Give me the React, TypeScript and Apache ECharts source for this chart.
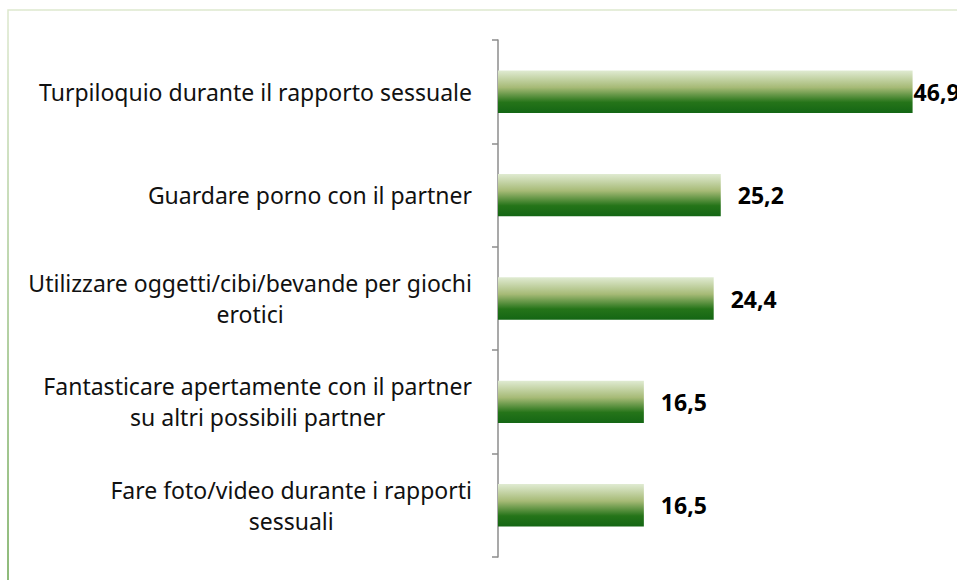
import React, { useEffect, useRef } from "react";
import * as echarts from "echarts";

const categories: string[] = [
  "Turpiloquio durante il rapporto sessuale",
  "Guardare porno con il partner",
  "Utilizzare oggetti/cibi/bevande per giochi\nerotici",
  "Fantasticare apertamente con il partner\nsu altri possibili partner",
  "Fare foto/video durante i rapporti\nsessuali",
];
const values: number[] = [46.9, 25.2, 24.4, 16.5, 16.5];
const labelDistances: number[] = [1, 17, 17, 17, 17];

export default function App() {
  const ref = useRef<HTMLDivElement>(null);
  useEffect(() => {
    if (!ref.current) return;
    const chart = echarts.init(ref.current, null, { renderer: "svg" });
    const barGradient = new echarts.graphic.LinearGradient(0, 0, 0, 1, [
      { offset: 0, color: "#e0ebd2" },
      { offset: 0.4, color: "#a6ba76" },
      { offset: 0.75, color: "#257419" },
      { offset: 1, color: "#146614" },
    ]);
    chart.setOption({
      animation: false,
      backgroundColor: "#ffffff",
      textStyle: { fontFamily: "Noto Sans" },
      graphic: [
        {
          type: "rect",
          shape: { x: 8, y: 10, width: 1000, height: 620 },
          style: {
            fill: "none",
            lineWidth: 1.5,
            stroke: new echarts.graphic.LinearGradient(0, 0, 0, 1, [
              { offset: 0, color: "#dde8ce" },
              { offset: 1, color: "#5f9e43" },
            ]),
          },
          silent: true,
          z: -1,
        },
      ],
      grid: { left: 498, top: 40, width: 442, height: 517 },
      xAxis: {
        type: "value",
        min: 0,
        max: 50,
        show: false,
      },
      yAxis: {
        type: "category",
        data: categories,
        inverse: true,
        axisLine: { show: true, lineStyle: { color: "#8c8c8c", width: 1.5 } },
        axisTick: { show: true, length: 6, lineStyle: { color: "#8c8c8c", width: 1.5 } },
        axisLabel: {
          margin: 26,
          align: "right",
          color: "#111",
          fontSize: 23,
          fontFamily: "Noto Sans",
          lineHeight: 31,
          formatter: (v: string) =>
            v
              .split("\n")
              .map((l) => "{c|" + l + "}")
              .join("\n"),
          rich: {
            c: {
              align: "center",
              fontSize: 23,
              fontFamily: "Noto Sans",
              color: "#111",
              lineHeight: 31,
            },
          },
        },
        splitLine: { show: false },
      },
      series: [
        {
          type: "bar",
          data: values.map((v, i) => ({
            value: v,
            label: { distance: labelDistances[i] },
          })),
          barCategoryGap: "59%",
          itemStyle: { color: barGradient },
          label: {
            show: true,
            position: "right",
            color: "#000",
            fontWeight: "bold",
            fontSize: 23,
            fontFamily: "Noto Sans",
            formatter: (p: any) => String(p.value).replace(".", ","),
          },
        },
      ],
    });
    return () => chart.dispose();
  }, []);
  return (
    <div
      ref={ref}
      style={{ position: "fixed", left: 0, top: 0, width: 957, height: 580, background: "#fff" }}
    />
  );
}
